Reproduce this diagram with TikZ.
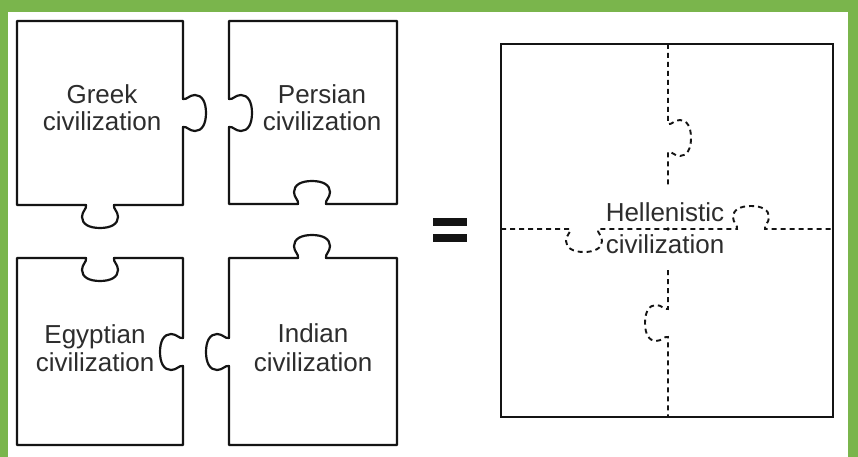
\documentclass[tikz,border=0pt]{standalone}
\usepackage{fontspec}
\setmainfont{Liberation Sans}
\definecolor{frame}{RGB}{122,181,76}
\definecolor{ink}{RGB}{20,20,20}
\definecolor{txt}{RGB}{45,45,45}
% knob on a vertical edge: start x y, outward sign s (x), travel sign d (y)
\newcommand\vknob[4]{-- (#1,#2)
 .. controls ({#1+(#3)*4},{#2+(#4)*1}) and ({#1+(#3)*6},{#2-(#4)*4}) .. ({#1+(#3)*12},{#2-(#4)*4})
 .. controls ({#1+(#3)*19},{#2-(#4)*4}) and ({#1+(#3)*23},{#2+(#4)*3}) .. ({#1+(#3)*23},{#2+(#4)*14})
 .. controls ({#1+(#3)*23},{#2+(#4)*25}) and ({#1+(#3)*19},{#2+(#4)*32}) .. ({#1+(#3)*12},{#2+(#4)*32})
 .. controls ({#1+(#3)*6},{#2+(#4)*32}) and ({#1+(#3)*4},{#2+(#4)*27}) .. ({#1},{#2+(#4)*28})}
% knob on a horizontal edge: start x y, outward sign s (y), travel sign d (x)
\newcommand\hknob[4]{-- (#1,#2)
 .. controls ({#1+(#4)*1},{#2+(#3)*4}) and ({#1-(#4)*4},{#2+(#3)*6}) .. ({#1-(#4)*4},{#2+(#3)*12})
 .. controls ({#1-(#4)*4},{#2+(#3)*19}) and ({#1+(#4)*3},{#2+(#3)*23}) .. ({#1+(#4)*14},{#2+(#3)*23})
 .. controls ({#1+(#4)*25},{#2+(#3)*23}) and ({#1+(#4)*32},{#2+(#3)*19}) .. ({#1+(#4)*32},{#2+(#3)*12})
 .. controls ({#1+(#4)*32},{#2+(#3)*6}) and ({#1+(#4)*27},{#2+(#3)*4}) .. ({#1+(#4)*28},{#2})}
\begin{document}
\begin{tikzpicture}[x=1pt,y=-1pt,
  piece/.style={draw=ink,line width=2.2pt,line join=round},
  seam/.style={draw=ink,line width=1.9pt,dash pattern=on 5pt off 4pt},
  lbl/.style={text=txt,font=\fontsize{26}{28}\selectfont,inner sep=0pt,anchor=base}]
\fill[frame] (0,0) rectangle (858,457);
\fill[white] (8,12) rectangle (848,457);
\path[use as bounding box] (0,0) rectangle (858,457);

% puzzle pieces
\draw[piece] (17,21) -- (183,21) \vknob{183}{99}{1}{1} -- (183,205) \hknob{114}{205}{1}{-1} -- (17,205) -- cycle;
\draw[piece] (229,21) -- (397,21) -- (397,204) \hknob{326}{204}{-1}{-1} -- (229,204) \vknob{229}{127}{1}{-1} -- cycle;
\draw[piece] (17,258) \hknob{86}{258}{1}{1} -- (183,258) \vknob{183}{338}{-1}{1} -- (183,445) -- (17,445) -- cycle;
\draw[piece] (229,258) \hknob{298}{258}{-1}{1} -- (397,258) -- (397,445) -- (229,445) \vknob{229}{366}{-1}{-1} -- cycle;

\node[lbl] (greekA) at (102,104) {Greek};
\node[lbl] (greekB) at (102,131) {civilization};
\node[lbl] (persA) at (322,104) {Persian};
\node[lbl] (persB) at (322,131) {civilization};
\node[lbl] (egyA) at (95,343) {Egyptian};
\node[lbl] (egyB) at (95,371) {civilization};
\node[lbl] (indA) at (313,342) {Indian};
\node[lbl] (indB) at (313,371) {civilization};

% equals sign
\fill[ink] (433,218) rectangle (467,226);
\fill[ink] (433,234) rectangle (467,242);

% combined square
\draw[ink,line width=2.6pt] (501,44) rectangle (833,417);
\draw[seam] (668,44) \vknob{668}{124}{1}{1} -- (668,188);
\draw[seam] (668,270) \vknob{668}{309}{-1}{1} -- (668,417);
\draw[seam] (501,229) \hknob{570}{229}{1}{1} \hknob{737}{229}{-1}{1} -- (833,229);
\fill[ink] (668,229) circle (1.8pt);
\node[lbl] (hellA) at (665,221) {Hellenistic};
\node[lbl] (hellB) at (665,253) {civilization};
\end{tikzpicture}
\end{document}
